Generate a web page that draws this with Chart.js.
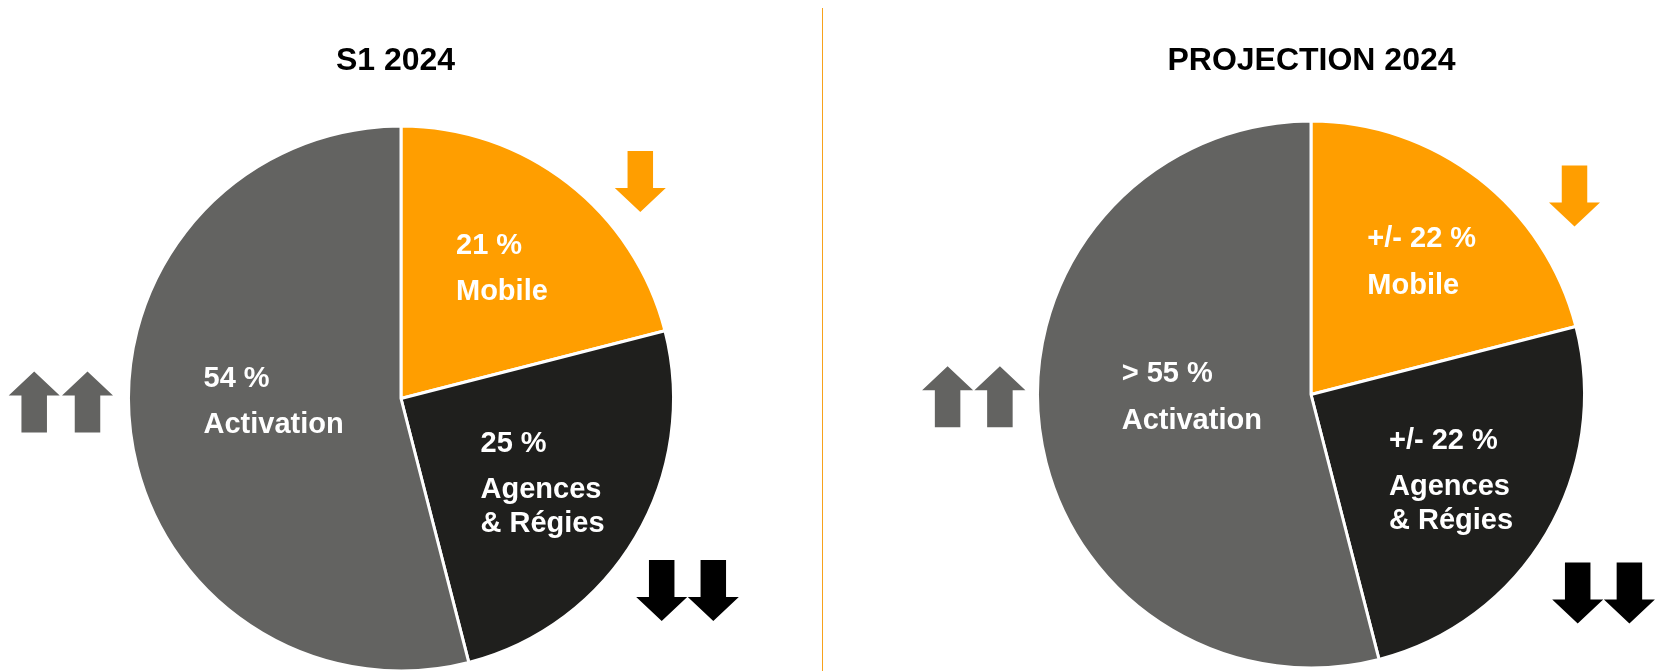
<!DOCTYPE html>
<html>
<head>
<meta charset="utf-8">
<script src="https://cdn.jsdelivr.net/npm/chart.js@4.4.0/dist/chart.umd.min.js"></script>
<style>
  html, body { margin: 0; padding: 0; background: #fff; }
  #wrap { position: relative; width: 1656px; height: 671px; overflow: hidden; }
  .box { position: absolute; top: 0; width: 828px; height: 671px; }
  #sep { position: absolute; left: 822px; top: 8px; width: 1px; height: 663px; background: #f7a21b; }
</style>
</head>
<body>
<div id="wrap">
  <div class="box" style="left:0"><canvas id="s1" width="828" height="671"></canvas></div>
  <div id="sep"></div>
  <div class="box" style="left:828px"><canvas id="proj" width="828" height="671"></canvas></div>
</div>
<script>
var categories = ["Mobile", "Agences & Régies", "Activation"],
    nameLines = [["Mobile"], ["Agences", "& Régies"], ["Activation"]],
    s1Values = [21, 25, 54],
    projValues = [21, 25, 54],
    s1Labels = ["21 %", "25 %", "54 %"],
    projLabels = ["+/- 22 %", "+/- 22 %", "> 55 %"],
    colors = ["#ff9e00", "#1f1f1d", "#636361"];

var FONT = '"Liberation Sans", Arial, Helvetica, sans-serif';

function drawArrow(ctx, a) {
    var w = 51, shaft = 25.5, head = 24, h = 61,
        x = a.x, y = a.y;
    ctx.fillStyle = a.color;
    ctx.beginPath();
    if (a.dir === 'down') {
        ctx.moveTo(x - shaft / 2, y);
        ctx.lineTo(x + shaft / 2, y);
        ctx.lineTo(x + shaft / 2, y + h - head);
        ctx.lineTo(x + w / 2, y + h - head);
        ctx.lineTo(x, y + h);
        ctx.lineTo(x - w / 2, y + h - head);
        ctx.lineTo(x - shaft / 2, y + h - head);
    } else {
        ctx.moveTo(x, y);
        ctx.lineTo(x + w / 2, y + head);
        ctx.lineTo(x + shaft / 2, y + head);
        ctx.lineTo(x + shaft / 2, y + h);
        ctx.lineTo(x - shaft / 2, y + h);
        ctx.lineTo(x - shaft / 2, y + head);
        ctx.lineTo(x - w / 2, y + head);
    }
    ctx.closePath();
    ctx.fill();
}

// titles, slice texts and arrows
var decor = {
    id: 'decor',
    afterDraw: function (chart, args, opts) {
        var ctx = chart.ctx,
            arc = chart.getDatasetMeta(0).data[0],
            cx = arc.x, cy = arc.y;
        ctx.save();
        ctx.fillStyle = '#000';
        ctx.font = 'bold 32px ' + FONT;
        ctx.textAlign = 'center';
        ctx.textBaseline = 'alphabetic';
        ctx.fillText(opts.title, cx + opts.titleDx, 69.5);

        ctx.font = 'bold 29px ' + FONT;
        ctx.textAlign = 'left';
        ctx.fillStyle = '#fff';
        opts.texts.forEach(function (t, i) {
            var p = opts.textPos[i],
                y = cy + p[1];
            ctx.fillText(t, cx + p[0], y);
            y += 46.5;
            nameLines[i].forEach(function (line) {
                ctx.fillText(line, cx + p[0], y);
                y += 34;
            });
        });

        opts.arrows.forEach(function (a) { drawArrow(ctx, a); });
        ctx.restore();
    }
};

function drawPie(id, values, texts, title, radius, padding, extra) {
    var ctx = document.getElementById(id);
    return new Chart(ctx, {
        type: 'pie',
        data: {
            labels: categories,
            datasets: [{
                data: values,
                backgroundColor: colors,
                borderColor: '#fff',
                borderWidth: 3,
                radius: radius
            }]
        },
        options: {
            responsive: false,
            animation: false,
            layout: { padding: padding },
            plugins: {
                legend: { display: false },
                tooltip: { enabled: false },
                decor: {
                    title: title,
                    titleDx: extra.titleDx,
                    texts: texts,
                    textPos: extra.textPos,
                    arrows: extra.arrows
                }
            }
        },
        plugins: [decor]
    });
}

window.onload = function () {
    drawPie('s1', s1Values, s1Labels, 'S1 2024', 272.5,
        { left: 0, right: 26, top: 126, bottom: 0 },
        {
            titleDx: -5.5,
            textPos: [[55, -145], [79.5, 53], [-197.5, -12]],
            arrows: [
                { x: 640.3, y: 151, dir: 'down', color: '#ff9e00' },
                { x: 34.2, y: 371.5, dir: 'up', color: '#636361' },
                { x: 87.5, y: 371.5, dir: 'up', color: '#636361' },
                { x: 661.7, y: 560, dir: 'down', color: '#000' },
                { x: 713.3, y: 560, dir: 'down', color: '#000' }
            ]
        });
    drawPie('proj', projValues, projLabels, 'PROJECTION 2024', 273.5,
        { left: 138, right: 0, top: 118, bottom: 0 },
        {
            titleDx: 0.5,
            textPos: [[56.3, -147.5], [78, 54], [-189.3, -12.2]],
            arrows: [
                { x: 746.5, y: 165.5, dir: 'down', color: '#ff9e00' },
                { x: 119.6, y: 366.3, dir: 'up', color: '#636361' },
                { x: 171.9, y: 366.3, dir: 'up', color: '#636361' },
                { x: 749.7, y: 562.6, dir: 'down', color: '#000' },
                { x: 801.4, y: 562.6, dir: 'down', color: '#000' }
            ]
        });
};
</script>
</body>
</html>
